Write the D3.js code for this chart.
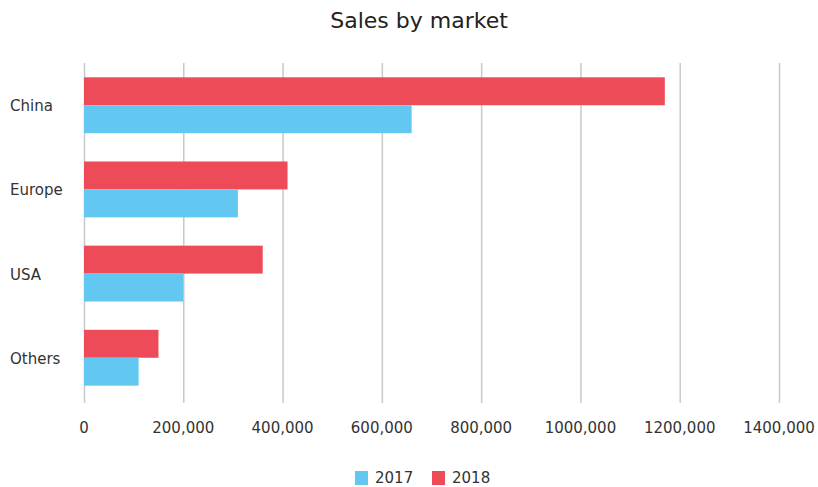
<!DOCTYPE html>
<html>
<head>
<meta charset="utf-8">
<script src="https://cdn.jsdelivr.net/npm/d3@7"></script>
<style>
  body { margin: 0; background: #fff; }
  text { font-family: "DejaVu Sans", sans-serif; fill: #333; }
</style>
</head>
<body>
<div id="chart"></div>
<script>
// data
var markets = ["China", "Europe", "USA", "Others"];
var years = ["2018", "2017"];
var sales2017 = [660000, 310000, 200000, 110000];
var sales2018 = [1170000, 410000, 360000, 150000];
var xTicks = [0, 200000, 400000, 600000, 800000, 1000000, 1200000, 1400000];
var xTickLabels = ["0", "200,000", "400,000", "600,000", "800,000", "1000,000", "1200,000", "1400,000"];
var colors = {"2017": "#62c8f1", "2018": "#ee4b59"};

var width = 818, height = 487;
var margin = {top: 63, right: 39, bottom: 87, left: 84};

var svg = d3.select("#chart").append("svg")
	.attr("width", width)
	.attr("height", height);

// title
svg.append("text")
	.attr("x", 419)
	.attr("y", 28)
	.attr("text-anchor", "middle")
	.style("font-size", "22px")
	.style("fill", "#222")
	.text("Sales by market");

var x = d3.scaleLinear()
	.domain([0, 1400000])
	.range([margin.left, width - margin.right]);

var y = d3.scaleBand()
	.domain(markets)
	.range([margin.top, height - margin.bottom])
	.paddingInner(0.336)
	.paddingOuter(0.17);

var ySub = d3.scaleBand()
	.domain(years)
	.range([0, y.bandwidth()]);

// vertical grid lines
var grid = svg.append("g")
	.attr("transform", "translate(0," + (height - margin.bottom + 3) + ")")
	.call(d3.axisBottom(x)
		.tickValues(xTicks)
		.tickSize(-(height - margin.bottom - margin.top + 3))
		.tickFormat(""));
grid.select(".domain").remove();
grid.selectAll("line")
	.attr("stroke", "#c9c9c9")
	.attr("stroke-width", 1.5);

// x tick labels
svg.append("g").selectAll("text")
	.data(xTicks)
	.enter().append("text")
	.attr("x", function(d) { return x(d); })
	.attr("y", 433)
	.attr("text-anchor", "middle")
	.style("font-size", "15px")
	.text(function(d, i) { return xTickLabels[i]; });

// category labels
svg.append("g").selectAll("text")
	.data(markets)
	.enter().append("text")
	.attr("x", 10)
	.attr("y", function(d) { return y(d) + y.bandwidth() / 2 + 6; })
	.style("font-size", "15px")
	.text(function(d) { return d; });

// bars
var rows = markets.map(function(m, i) {
	return {market: m, values: [
		{year: "2018", value: sales2018[i]},
		{year: "2017", value: sales2017[i]}
	]};
});

svg.append("g").selectAll("g")
	.data(rows)
	.enter().append("g")
	.attr("transform", function(d) { return "translate(0," + y(d.market) + ")"; })
	.selectAll("rect")
	.data(function(d) { return d.values; })
	.enter().append("rect")
	.attr("x", x(0))
	.attr("y", function(d) { return ySub(d.year); })
	.attr("width", function(d) { return x(d.value) - x(0); })
	.attr("height", ySub.bandwidth())
	.attr("fill", function(d) { return colors[d.year]; });

// legend
var legendItems = [
	{label: "2017", x: 355},
	{label: "2018", x: 432}
];
var legend = svg.append("g").selectAll("g")
	.data(legendItems)
	.enter().append("g")
	.attr("transform", function(d) { return "translate(" + d.x + ",471)"; });
legend.append("rect")
	.attr("width", 13)
	.attr("height", 14)
	.attr("fill", function(d) { return colors[d.label]; });
legend.append("text")
	.attr("x", 20)
	.attr("y", 12)
	.style("font-size", "15px")
	.text(function(d) { return d.label; });
</script>
</body>
</html>
